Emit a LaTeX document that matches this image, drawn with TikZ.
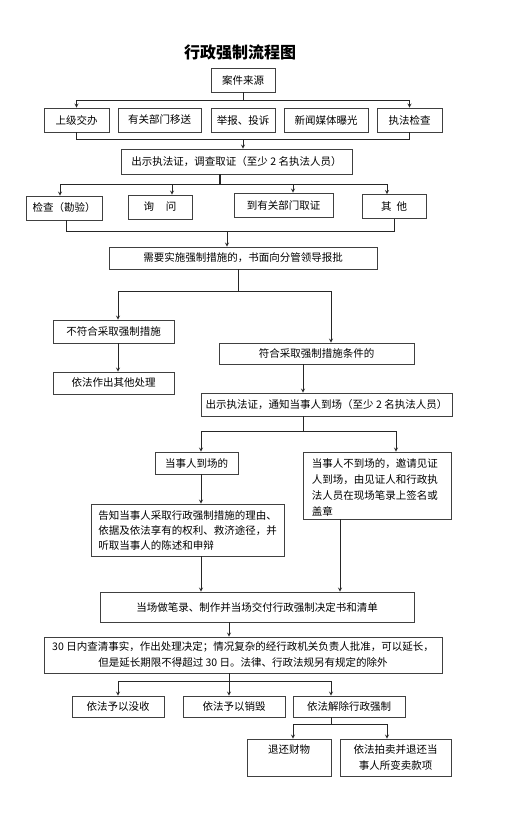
\documentclass[tikz,border=0pt]{standalone}
\usepackage{fontspec}
\newfontfamily\cjk{Noto Sans CJK SC}
\usepackage{tikz}
\usetikzlibrary{positioning}

\begin{document}
\begin{tikzpicture}[
  x=1pt, y=-1pt,
  box/.style={draw=black!75, line width=0.8pt, font=\cjk\fontsize{10.5}{16}\selectfont, inner sep=2pt, minimum height=#1, align=center},
  box/.default=24pt,
  txt/.style={font=\cjk\fontsize{10.5}{16}\selectfont, inner sep=2pt, align=left},
  ttl/.style={font=\cjk\bfseries\fontsize{16}{18}\selectfont, inner sep=0pt},
  ln/.style={line width=0.8pt, color=black!85},
  arr/.style={->, >=stealth, line width=0.8pt, color=black!85},
]
\useasboundingbox (0,0) rectangle (509,814);

% ── Title and source ─────────────────────────────────────────
\node[ttl] (title) at (240,52) {行政强制流程图};
\node[box, minimum width=64pt] (src) at (243,80) {案件来源};

% ── Case origins ─────────────────────────────────────────────
\node[box, minimum width=65pt] (r1a) at (76.5,120)  {上级交办};
\node[box, minimum width=83pt] (r1b) at (159.5,120) {有关部门移送};
\node[box, minimum width=64pt] (r1c) at (243,120)   {举报、投诉};
\node[box, minimum width=84pt] (r1d) at (326,120)   {新闻媒体曝光};
\node[box, minimum width=65pt] (r1e) at (409.5,120) {执法检查};

\node[box=25pt, minimum width=231pt] (show) at (236.5,161.5) {出示执法证，调查取证（至少 2 名执法人员）};

% ── Investigation ────────────────────────────────────────────
\node[box, minimum width=76pt] (chk) at (64,208)    {检查（勘验）};
\node[box, minimum width=64pt] (xun) at (160,207)   {询\hspace{12pt}问};
\node[box, minimum width=99pt] (qz)  at (283.5,205) {到有关部门取证};
\node[box, minimum width=64pt] (qt)  at (394,206.5) {其\hspace{5pt}他};

\node[box=22pt, minimum width=268pt] (need) at (243,258) {需要实施强制措施的，书面向分管领导报批};

% ── Approval ─────────────────────────────────────────────────
\node[box=23pt, minimum width=121pt] (no)    at (113.5,331.5) {不符合采取强制措施};
\node[box=22pt, minimum width=121pt] (other) at (113.5,383)   {依法作出其他处理};
\node[box=21pt, minimum width=195pt] (yes)   at (316.5,353.5) {符合采取强制措施条件的};
\node[box=23pt, minimum width=251pt] (notify) at (326.5,404.5) {出示执法证，通知当事人到场（至少 2 名执法人员）};

% ── Presence of the party ────────────────────────────────────
\node[box=22pt, minimum width=83pt] (pres) at (196.5,463) {当事人到场的};
\node[box=52pt, minimum width=193pt, font=\cjk\fontsize{10.5}{15}\selectfont, align=left] (tell) at (187.5,530)
  {告知当事人采取行政强制措施的理由、\\依据及依法享有的权利、救济途径，并\\听取当事人的陈述和申辩};
\node[box=67pt, minimum width=148pt] (abs) at (377,485.5) {};
\node[txt, anchor=north west, xshift=7pt, yshift=-5pt] (abstxt) at (abs.north west)
  {当事人不到场的，邀请见证\\人到场，由见证人和行政执\\法人员在现场笔录上签名或\\盖章};

\node[box=30pt, minimum width=314pt] (rec) at (257,607) {当场做笔录、制作并当场交付行政强制决定书和清单};
\node[box=36pt, minimum width=398pt] (dec) at (243,655)
  {30 日内查清事实，作出处理决定；情况复杂的经行政机关负责人批准，可以延长，\\但是延长期限不得超过 30 日。法律、行政法规另有规定的除外};

% ── Outcomes ─────────────────────────────────────────────────
\node[box=21pt, minimum width=92pt]  (conf) at (118,706.5) {依法予以没收};
\node[box=21pt, minimum width=102pt] (dest) at (234,706.5) {依法予以销毁};
\node[box=21pt, minimum width=112pt] (rel)  at (349,706.5) {依法解除行政强制};
\node[box=37pt, minimum width=84pt]  (ret)  at (289,757.5) {退还财物\\\phantom{财}};
\node[box=37pt, minimum width=111pt] (sell) at (395.5,757.5) {依法拍卖并退还当\\事人所变卖款项};

% ── Connectors ───────────────────────────────────────────────
\draw[ln] (src.south) -- ++(0,8) coordinate (j1);
\draw[arr] (j1) -| (r1a.north);
\draw[arr] (j1) -| (r1e.north);

\draw[ln] (r1a.south) -- ++(0,7) coordinate (j2) -| (r1e.south);
\draw[arr] (j2) -| ([xshift=6.5pt]show.north);

\draw[ln, line width=1.3pt] ([xshift=-16.5pt]show.south) -- ++(0,10) coordinate (j3);
\draw[arr] (j3) -| ([xshift=-4pt]chk.north);
\draw[arr] (j3) -| ([xshift=12pt]xun.north);
\draw[arr] (j3) -| ([xshift=9.5pt]qz.north);
\draw[arr] (j3) -| ([xshift=-7pt]qt.north);

\draw[ln] ([xshift=2pt]chk.south) -- ++(0,11) coordinate (j4) -| (qt.south);
\draw[arr] (j4) -| ([xshift=-16pt]need.north);

\draw[ln] ([xshift=-5pt]need.south) -- ++(0,22) coordinate (j5);
\draw[arr] (j5) -| ([xshift=4.5pt]no.north);
\draw[arr] (j5) -| ([xshift=14.5pt]yes.north);
\draw[arr] ([xshift=4.5pt]no.south) -- ([xshift=4.5pt]other.north);
\draw[arr] ([xshift=-13.5pt]yes.south) -- ([xshift=-23.5pt]notify.north);

\draw[ln] ([xshift=-23.5pt]notify.south) -- ++(0,15) coordinate (j6);
\draw[arr] (j6) -| ([xshift=4.5pt]pres.north);
\draw[arr] (j6) -| ([xshift=19pt]abs.north);
\draw[arr] ([xshift=4.5pt]pres.south) -- ([xshift=13.5pt]tell.north);
\draw[arr] ([xshift=13.5pt]tell.south) -- ([xshift=-56pt]rec.north);
\draw[arr] ([xshift=-37pt]abs.south) -- ([xshift=83pt]rec.north);
\draw[arr] ([xshift=-28pt]rec.south) -- ([xshift=-14pt]dec.north);

\draw[ln] ([xshift=-14pt]dec.south) -- ++(0,8) coordinate (j7);
\draw[arr] (j7) -| (conf.north);
\draw[arr] (j7) -| ([xshift=-5pt]dest.north);
\draw[arr] (j7) -| ([xshift=-18pt]rel.north);

\draw[ln] ([xshift=-18pt]rel.south) -- ++(0,7) coordinate (j8);
\draw[arr] (j8) -| ([xshift=4pt]ret.north);
\draw[arr] (j8) -| ([xshift=-8.5pt]sell.north);

\end{tikzpicture}
\end{document}
